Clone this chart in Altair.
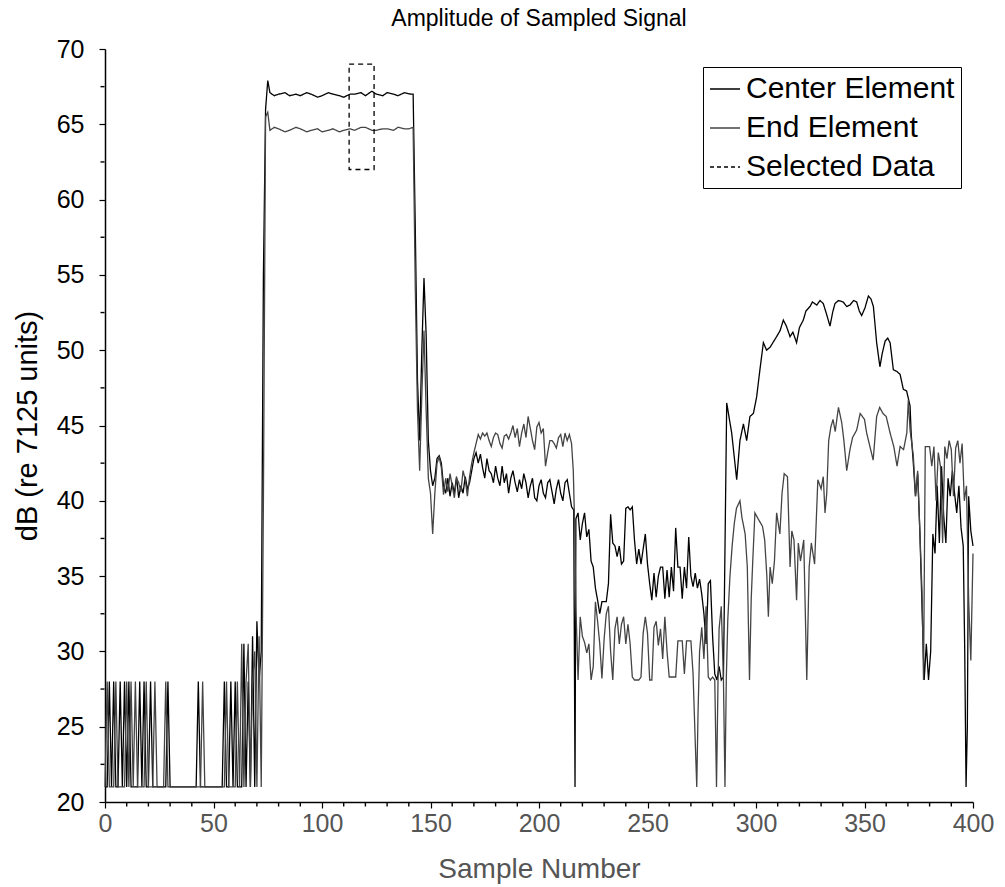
import altair as alt
import pandas as pd

# ---- data ----
series_names = ["Center Element", "End Element", "Selected Data"]

center_points = [
    (0, 21), (1, 21), (2, 28), (3, 21), (4, 28), (5, 21), (6, 21), (7, 28), (8, 21), (9, 28),
    (10, 21), (11, 28), (12, 21), (13, 21), (15, 21), (16, 28), (17, 21), (18, 28), (19, 21),
    (20, 21), (21, 28), (22, 21), (28, 21), (29, 28), (30, 21), (42, 21), (43, 28), (44, 21),
    (54, 21), (55, 28), (56, 21), (57, 21), (58, 28), (59, 21), (60, 28), (61, 21), (63, 21),
    (64, 30.5), (65, 21), (66, 28), (67, 21), (68, 31), (69, 21), (70, 32), (71, 28), (72, 30),
    (73, 55), (74, 66), (75, 67.9), (76, 67.1), (78, 66.9), (80, 67.0), (83, 67.1), (85, 66.9),
    (88, 67.0), (90, 66.9), (93, 67.1), (95, 67.0), (98, 66.8), (100, 66.9), (103, 67.1),
    (105, 67.0), (108, 66.9), (110, 66.8), (113, 67.0), (115, 67.0), (118, 67.1), (120, 66.9),
    (123, 67.2), (125, 67.0), (128, 66.9), (130, 67.1), (133, 67.0), (135, 66.9), (138, 67.1),
    (141, 67.0), (142, 67.0), (143, 58), (144, 48), (145, 44), (146, 50), (147, 54.8), (148, 51),
    (149, 44), (150, 42), (151, 41), (152, 41.5), (153, 42.8), (154, 43), (155, 42.5), (156, 41),
    (157, 40.5), (158, 41.5), (159, 40.3), (160, 41.2), (161, 40.5), (162, 41.6), (163, 40.2),
    (164, 41), (165, 40.5), (166, 41.6), (167, 40.8), (168, 41.2), (169, 42), (170, 42.8),
    (171, 43.2), (172, 42.5), (173, 43.1), (174, 42.2), (175, 41.5), (176, 42.8), (177, 42),
    (178, 41.8), (179, 41.2), (180, 42.3), (181, 41.5), (182, 41), (183, 42.3), (184, 41.2),
    (185, 41.8), (186, 40.5), (187, 41.5), (188, 42), (189, 41.2), (190, 40.6), (191, 41.4),
    (192, 40.8), (193, 41.8), (194, 41.2), (195, 40.2), (196, 41), (197, 41.5), (198, 40.2),
    (199, 40), (200, 41), (201, 41.4), (202, 40.5), (203, 40.2), (204, 41.2), (205, 41.4),
    (206, 40.6), (207, 39.8), (208, 40.8), (209, 41.4), (210, 40.5), (211, 40), (212, 41.2),
    (213, 41.4), (214, 40.5), (215, 39.6), (216, 39.4), (216.6, 21), (217, 38.8), (218, 39.2),
    (219, 37.4), (220, 38.5), (221, 39.2), (222, 37.6), (223, 38.1), (224, 36), (225, 35.6),
    (226, 34.2), (227, 33.4), (228, 32.5), (229, 33.3), (230, 33.3), (231, 33.3), (232, 34.5),
    (233, 39.1), (234, 37.2), (235, 37), (236, 36.3), (237, 37), (238, 35.8), (239, 36),
    (240, 39.5), (241, 39.6), (242, 39.4), (243, 39.6), (244, 37.4), (245, 35.8), (246, 36.8),
    (247, 35.8), (248, 36.8), (249, 37.8), (250, 35.8), (251, 34.5), (252, 33.4), (253, 35.2),
    (254, 33.6), (255, 35), (256, 35.6), (257, 35.6), (258, 33.5), (259, 35.4), (260, 33.6),
    (261, 35.6), (262, 34), (263, 38.2), (264, 35.6), (265, 35.6), (266, 33.5), (267, 35.6),
    (268, 34.2), (269, 37.6), (270, 35), (271, 34.3), (272, 35.2), (273, 34.2), (274, 34.8),
    (275, 33.8), (276, 32.5), (277, 30.5), (278, 34.5), (279, 34.7), (280, 31), (281, 28.5),
    (282, 28.1), (283, 29), (284, 28.1), (285, 28.3), (286.5, 46.5), (288.8, 44.5), (291.1, 41.4),
    (292.6, 44.0), (294.2, 45.1), (295.7, 44.0), (297.2, 45.6), (298.8, 45.8), (300.3, 46.9),
    (301.8, 48.7), (303.4, 50.5), (304.9, 50.0), (306.5, 50.2), (309.5, 50.9), (311.1, 51.3),
    (312.6, 52.0), (314, 51.6), (315.7, 50.9), (317, 51.2), (318.7, 50.5), (320, 51.5),
    (321.8, 52.0), (323, 52.6), (324.9, 52.9), (326, 53.2), (328, 53.0), (329.5, 53.3),
    (331, 53.1), (332.5, 52.4), (334.1, 51.6), (335.3, 52.5), (336.4, 53.1), (338, 53.3),
    (340.2, 53.2), (341.8, 52.9), (343.3, 53.0), (345, 53.3), (346.4, 53.2), (347.6, 52.6),
    (348.7, 52.3), (350.2, 52.8), (351.8, 53.6), (353, 53.4), (354.1, 52.9), (355.6, 50.5),
    (357.1, 48.9), (358.2, 49.8), (359.5, 50.6), (360.7, 50.8), (361.8, 50.5), (363.3, 48.7),
    (364.8, 48.6), (366.4, 48.4), (367.9, 47.4), (369.4, 47.3), (371, 46.3), (371.5, 44.5),
    (372.5, 42.5), (373.5, 40.3), (374.5, 41.8), (375.5, 38), (376.5, 33), (377.5, 28.1),
    (378.5, 30.5), (379.5, 28.1), (380.5, 30), (381.5, 37.8), (382.5, 36.5), (383.5, 41),
    (384.5, 37.2), (385.5, 42.3), (386.5, 39), (387.5, 37.2), (388.5, 41.5), (389.5, 40.3),
    (390.5, 42), (391.5, 40.5), (392.5, 39.2), (393.5, 41), (394.5, 38.2), (395.5, 37),
    (396.2, 29.9), (396.8, 21), (397.4, 25), (398, 40.3), (399, 38), (400, 37),
]

end_points = [
    (0, 21), (1, 28), (2, 21), (4, 21), (5, 28), (6, 21), (9, 21), (10, 28), (11, 21), (12, 28),
    (13, 21), (14, 28), (15, 21), (18, 21), (19, 28), (20, 21), (22, 21), (23, 28), (24, 21),
    (27, 21), (28, 28), (29, 21), (44, 21), (45, 28), (46, 21), (55, 21), (56, 28), (57, 21),
    (60, 21), (61, 28), (62, 21), (63, 30.5), (64, 21), (65, 28), (66, 30.5), (67, 21), (68, 28),
    (69, 30), (70, 21), (71, 31), (72, 21), (73, 40), (74, 65.5), (75, 65.8), (76, 64.6),
    (78, 64.8), (80, 64.7), (83, 64.5), (85, 64.6), (88, 64.8), (90, 64.7), (93, 64.5),
    (95, 64.6), (98, 64.7), (100, 64.5), (103, 64.6), (105, 64.7), (108, 64.5), (110, 64.6),
    (113, 64.7), (115, 64.6), (118, 64.8), (120, 64.8), (123, 64.6), (125, 64.6), (128, 64.7),
    (130, 64.7), (133, 64.6), (135, 64.8), (138, 64.7), (140, 64.7), (142, 64.8), (143, 54),
    (144, 46), (145, 42), (146, 47), (147, 51.3), (148, 46), (149, 41.5), (150, 40.5),
    (151, 37.8), (152, 40.5), (153, 42.5), (154, 42.9), (155, 42.2), (156, 40.4), (157, 41.5),
    (158, 40.6), (159, 41.8), (160, 41), (161, 40.2), (162, 41.5), (163, 41.2), (164, 40.6),
    (165, 42), (166, 41.4), (167, 40.3), (168, 41.6), (169, 42.5), (170, 43.2), (171, 43.8),
    (172, 44.4), (173, 44.1), (174, 44.5), (175, 44.3), (176, 44.5), (177, 44.0), (178, 43.6),
    (179, 44.2), (180, 44.5), (181, 44.4), (182, 43.8), (183, 43.5), (184, 44.3), (185, 44.4),
    (186, 44.1), (187, 44.5), (188, 45.0), (189, 44.2), (190, 44.8), (191, 43.6), (192, 44.5),
    (193, 45.1), (194, 44.2), (195, 45.6), (196, 44.8), (197, 44.0), (198, 43.4), (199, 44.9),
    (200, 45.2), (201, 44.5), (202, 44.8), (203, 42.3), (204, 43.2), (205, 44.0), (206, 44.0),
    (207, 43.8), (208, 43.5), (209, 44.2), (210, 44.4), (211, 43.6), (212, 44.5), (213, 44.0),
    (214, 44.4), (215, 43.8), (215.8, 42.0), (216.5, 38), (217, 33), (218, 28.1), (219, 32.3),
    (220, 31), (221, 30.6), (222, 29.9), (223, 30.5), (224, 28.1), (225, 29), (226, 33.3),
    (227, 32), (228, 30.5), (229, 28.2), (230, 30.8), (231, 32.5), (232, 33), (233, 30),
    (234, 28.1), (235, 31.5), (236, 32.3), (237, 30.5), (238, 31.8), (239, 32.3), (240, 30.5),
    (241, 31.8), (242, 30.5), (243, 28.3), (244, 28.1), (245, 28.1), (246, 28.1), (247, 28.3),
    (248, 31.2), (249, 32.3), (250, 31.2), (251, 28.1), (252, 28.1), (253, 31.6), (254, 32),
    (255, 30.4), (256, 31.5), (257, 29.5), (258, 32.3), (259, 30), (260, 28.3), (261, 28.3),
    (262, 28.3), (263, 28.3), (264, 30.7), (265, 30.7), (266, 30.7), (267, 28.5), (268, 30.7),
    (269, 30.7), (270, 30.7), (271, 28.5), (272, 24), (272.7, 21), (273.3, 26), (274, 30),
    (275, 31.6), (276, 29.5), (277, 33), (278, 28.3), (279, 28.1), (280, 28.3), (281, 28.1),
    (281.8, 21), (282.5, 28.1), (283, 31.5), (284, 33), (285, 28.1), (285.7, 21), (286.3, 28.1),
    (287, 32.1), (288, 35), (289, 37), (290, 38.5), (291, 39.5), (292.6, 40), (293.5, 38.9),
    (295, 37.8), (296, 35.6), (297, 28.1), (297.8, 33.5), (298.5, 36), (299.5, 39.2),
    (301, 38.8), (303, 38.3), (304, 37.4), (305, 35), (305.7, 32.3), (306.5, 35.6), (307.5, 34.5),
    (308.5, 36), (309.5, 39.2), (311, 37.8), (312, 40.5), (313, 41.8), (314.5, 41.6),
    (315.7, 35.6), (316.5, 38), (317.5, 37.4), (318.7, 33.4), (319.5, 37.2), (320.5, 36),
    (322, 37.4), (323.4, 28.1), (324.5, 35.6), (325.5, 37.2), (327, 35.8), (328.5, 41.4),
    (330, 40.8), (331, 41.6), (331.8, 39.2), (332.6, 40.5), (333.5, 44), (334.5, 44.9),
    (335.5, 45.4), (336.5, 44.6), (338, 46.2), (339.5, 45.2), (340.5, 44), (341.8, 42),
    (343.3, 43.4), (344.5, 44.2), (346.4, 44.7), (348, 45.8), (349, 45.6), (350, 45.4),
    (351, 44.5), (352.5, 43.6), (354, 42.7), (355.6, 45.6), (357, 46.2), (358.5, 45.8),
    (360, 45.6), (361.8, 44.5), (363.5, 43.6), (365, 42.3), (366.4, 43.6), (368, 43.4),
    (369.5, 44.5), (370.2, 46.7), (371, 44.7), (372.5, 43), (373.5, 40.3), (374.5, 42),
    (375.5, 38), (376.5, 34), (377.2, 28.1), (378, 43.6), (380, 43.6), (381, 42.3), (382, 43.6),
    (383, 40), (384, 43.2), (385, 42.3), (386, 37.2), (387, 43.6), (388, 42.8), (389, 44),
    (390, 43.4), (391, 40.3), (392, 43.5), (393, 44.0), (394, 42.5), (395, 43.8), (396, 40),
    (397, 41), (398, 33.4), (399, 29.4), (400, 36.5),
]

selected_sample = [112.5, 124]   # start, end of selected window
selected_db = [62, 69]           # low, high of selected window

x_major_ticks = list(range(0, 401, 50))
x_minor_ticks = [v for v in range(0, 401, 10) if v % 50 != 0]
y_major_ticks = list(range(20, 71, 5))
y_minor_ticks = [22.5 + 5 * i for i in range(10)]

# ---- tables ----
rows = [{"sample": s, "db": v, "series": series_names[0]} for s, v in center_points]
rows += [{"sample": s, "db": v, "series": series_names[1]} for s, v in end_points]
lines_df = pd.DataFrame(rows)
sel_df = pd.DataFrame({"x1": [selected_sample[0]], "x2": [selected_sample[1]],
                       "y1": [selected_db[0]], "y2": [selected_db[1]]})
xminor_df = pd.DataFrame({"sample": x_minor_ticks})
yminor_df = pd.DataFrame({"db": y_minor_ticks})

text_font = "Liberation Sans"
PLOT_W, PLOT_H = 868, 753

x_scale = alt.Scale(domain=[0, 400], nice=False, zero=False)
y_scale = alt.Scale(domain=[20, 70], nice=False, zero=False)

x_axis = alt.Axis(
    title="Sample Number", values=x_major_ticks, tickSize=6,
    labelFont=text_font, labelFontSize=25, labelColor="#555555", labelPadding=3,
    labelFlush=False, labelOverlap=False,
    titleFont=text_font, titleFontSize=28, titleFontWeight="normal", titleColor="#555555",
    titlePadding=19, grid=False, domainColor="black", domainWidth=1.5,
    tickColor="black", tickWidth=1.2,
)
y_axis = alt.Axis(
    title="dB (re 7125 units)", values=y_major_ticks, tickSize=6,
    labelFont=text_font, labelFontSize=25, labelColor="black", labelPadding=15,
    labelFlush=False, labelOverlap=False,
    titleFont=text_font, titleFontSize=29, titleFontWeight="normal", titleColor="black",
    titlePadding=14, grid=False, domainColor="black", domainWidth=1.5,
    tickColor="black", tickWidth=1.2,
)

legend_cfg = dict(
    title=None, orient="none", legendX=598, legendY=18,
    symbolType="stroke", symbolSize=900, symbolStrokeWidth=1.3,
    labelFont=text_font, labelFontSize=30, labelColor="black", labelOffset=5,
    labelLimit=500, rowPadding=8, padding=6, strokeColor="black", fillColor="white",
)

lines = alt.Chart(lines_df).mark_line(strokeWidth=1.3, interpolate="linear").encode(
    x=alt.X("sample:Q", scale=x_scale, axis=x_axis),
    y=alt.Y("db:Q", scale=y_scale, axis=y_axis),
    color=alt.Color("series:N",
                    scale=alt.Scale(domain=series_names, range=["black", "#444444", "black"]),
                    legend=alt.Legend(**legend_cfg)),
    strokeDash=alt.StrokeDash("series:N",
                              scale=alt.Scale(domain=series_names, range=[[1, 0], [1, 0], [4, 3]]),
                              legend=alt.Legend(**legend_cfg)),
)

sel = alt.Chart(sel_df).mark_rect(fill=None, filled=False, stroke="black", strokeWidth=1.3,
                                  strokeDash=[5, 4]).encode(
    x=alt.X("x1:Q", scale=x_scale),
    x2="x2:Q",
    y=alt.Y("y1:Q", scale=y_scale),
    y2="y2:Q",
)

# minor ticks placed through the shared scales
x_minor = alt.Chart(xminor_df).mark_tick(color="black", thickness=1.4, size=4,
                                         orient="vertical", opacity=1).encode(
    x=alt.X("sample:Q", scale=x_scale),
    y=alt.value(PLOT_H + 2.5),
)
y_minor = alt.Chart(yminor_df).mark_tick(color="black", thickness=1.4, size=4,
                                         orient="horizontal", opacity=1).encode(
    y=alt.Y("db:Q", scale=y_scale),
    x=alt.value(-2.5),
)

chart = alt.layer(lines, sel, x_minor, y_minor).properties(
    width=PLOT_W, height=PLOT_H, background="white",
    title=alt.TitleParams("Amplitude of Sampled Signal", font=text_font, fontSize=23,
                          fontWeight="normal", color="black", anchor="middle", offset=6),
    autosize=alt.AutoSizeParams(type="none"),
    padding={"left": 105, "top": 49, "right": 32, "bottom": 85},
).configure_view(stroke=None)

chart.save("out.html", embed_options={"renderer": "svg", "actions": False})
